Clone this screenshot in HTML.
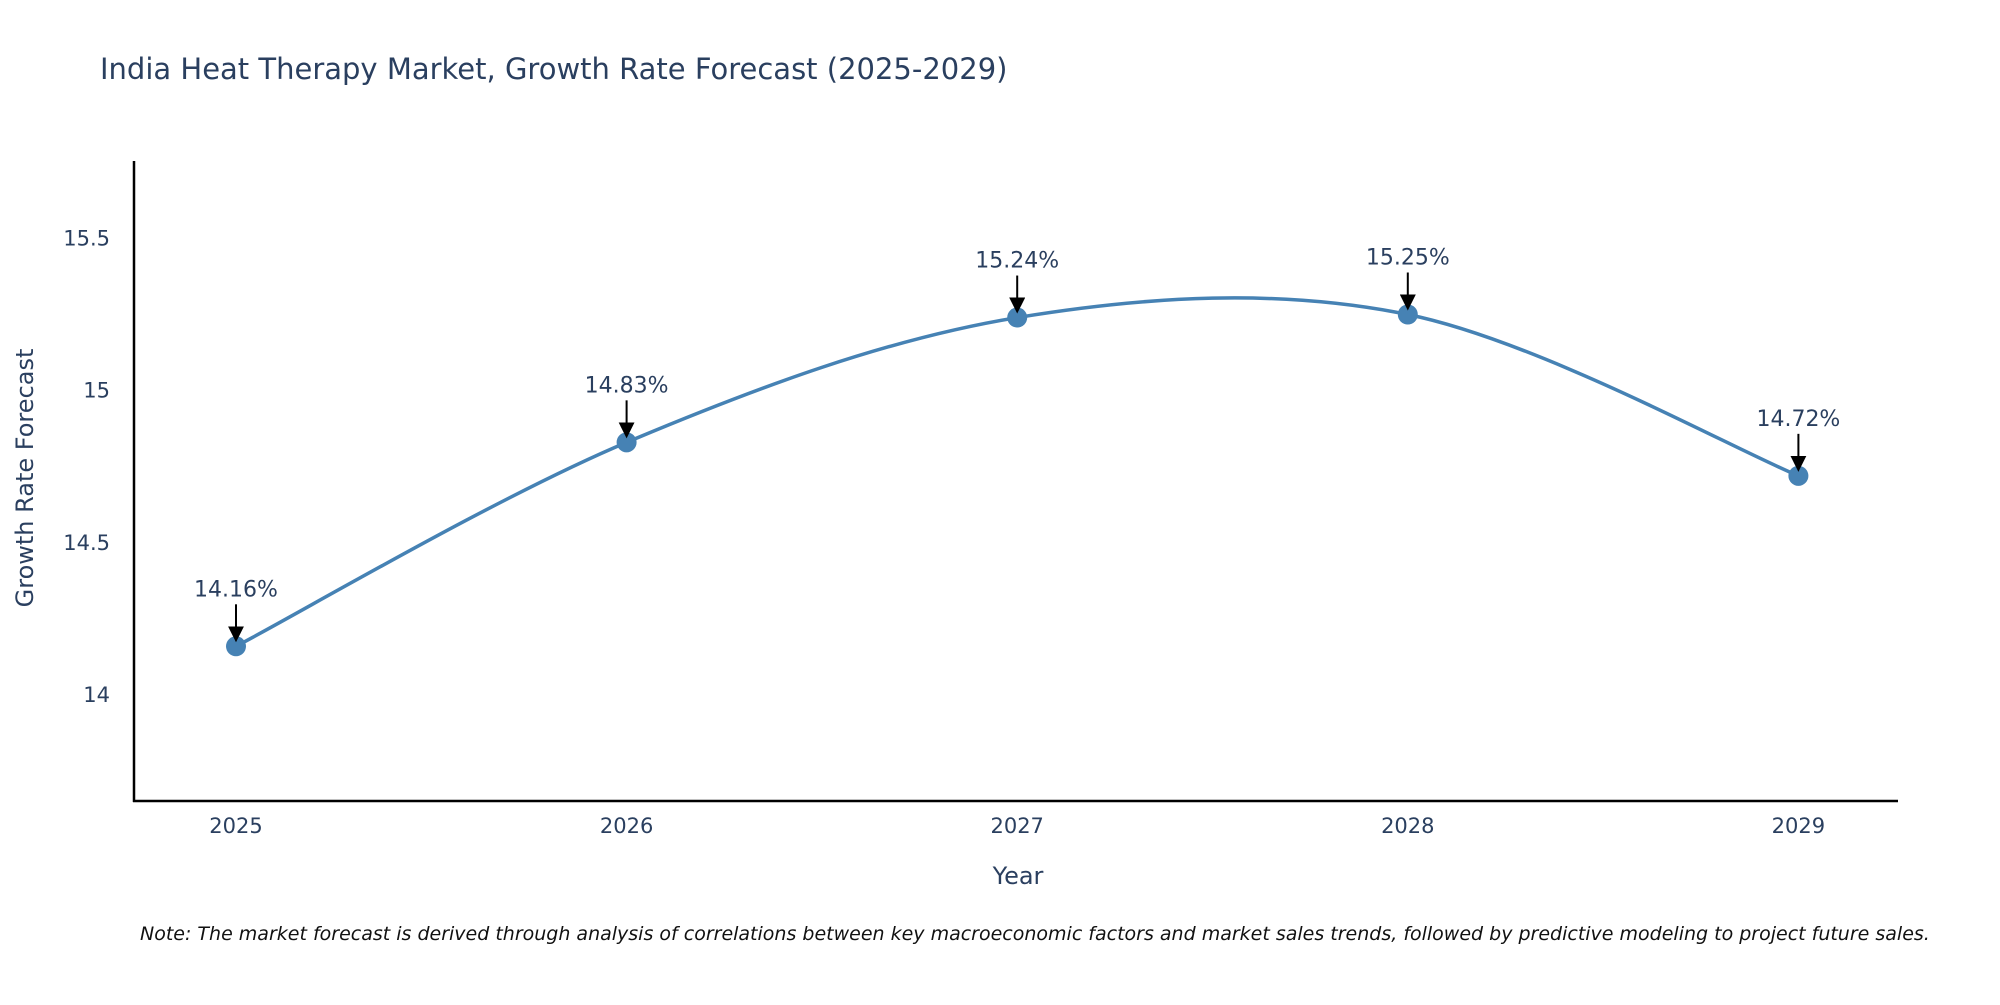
<!DOCTYPE html>
<html><head><meta charset="utf-8"><style>
body{margin:0;background:#fff;width:2000px;height:1000px;overflow:hidden}
svg text{font-family:"DejaVu Sans","Liberation Sans",sans-serif;fill:#2a3f5f}
</style></head><body>
<svg id="chart" width="2000" height="1000" viewBox="0 0 2000 1000">
<text x="100" y="79" font-size="29">India Heat Therapy Market, Growth Rate Forecast (2025-2029)</text>
<g id="axes"></g>
<g id="series"></g>
<text transform="translate(33,478) rotate(-90)" text-anchor="middle" font-size="24">Growth Rate Forecast</text>
<text x="1018" y="884" text-anchor="middle" font-size="24">Year</text>
<text x="140" y="940" font-size="19" font-style="italic" style="fill:#111">Note: The market forecast is derived through analysis of correlations between key macroeconomic factors and market sales trends, followed by predictive modeling to project future sales.</text>
</svg>
<script>
const years=[2025,2026,2027,2028,2029];
const values=[14.16,14.83,15.24,15.25,14.72];
const labels=["14.16%","14.83%","15.24%","15.25%","14.72%"];
const yTicks=[14,14.5,15,15.5];
const yTickLabels=["14","14.5","15","15.5"];

const NS="http://www.w3.org/2000/svg";
const L=134,R=1898,T=161,B=801;
const x=v=>236+(v-2025)*390.6;
const y=v=>695-(v-14)*304.4;
function mk(tag,attrs,parent){const e=document.createElementNS(NS,tag);for(const k in attrs)e.setAttribute(k,attrs[k]);parent.appendChild(e);return e;}
const axes=document.getElementById('axes'),ser=document.getElementById('series');
const defs=mk('defs',{},document.getElementById('chart'));
const m=mk('marker',{id:'ah',markerWidth:'8',markerHeight:'8',refX:'6',refY:'4',orient:'auto',markerUnits:'userSpaceOnUse'},defs);
m.setAttribute('viewBox','0 0 8 8');m.setAttribute('markerWidth','16');m.setAttribute('markerHeight','16');
mk('path',{d:'M0,0 L8,4 L0,8 Z',fill:'#000'},m);

let e=mk('line',{x1:L,y1:T,x2:L,y2:B+1,stroke:'#000','stroke-width':2.5},axes);

e=mk('line',{x1:L-1,y1:B,x2:R,y2:B,stroke:'#000','stroke-width':2.5},axes);

yTicks.forEach((t,i)=>{const tx=mk('text',{x:110,y:y(t)+7,'text-anchor':'end','font-size':21},axes);tx.textContent=yTickLabels[i];
});
years.forEach(v=>{const tx=mk('text',{x:x(v),y:833,'text-anchor':'middle','font-size':21},axes);tx.textContent=v;
});

const P=years.map((v,i)=>[x(v),y(values[i])]);
let d=`M${P[0][0]},${P[0][1]}`;
for(let i=0;i<P.length-1;i++){const p0=P[Math.max(0,i-1)],p1=P[i],p2=P[i+1],p3=P[Math.min(P.length-1,i+2)];const k=1/6;
d+=` C${p1[0]+(p2[0]-p0[0])*k},${p1[1]+(p2[1]-p0[1])*k} ${p2[0]-(p3[0]-p1[0])*k},${p2[1]-(p3[1]-p1[1])*k} ${p2[0]},${p2[1]}`;}
e=mk('path',{d:d,fill:'none',stroke:'#4682b4','stroke-width':3.5},ser);

P.forEach((p,i)=>{
 const c=mk('circle',{cx:p[0],cy:p[1],r:10,fill:'#4682b4'},ser);
 
 const a=mk('line',{x1:p[0],y1:p[1]-42,x2:p[0],y2:p[1]-8,stroke:'#000','stroke-width':2,'marker-end':'url(#ah)'},ser);
 
 const t=mk('text',{x:p[0],y:p[1]-50,'text-anchor':'middle','font-size':22},ser);t.textContent=labels[i];
 
});
</script>
</body></html>
